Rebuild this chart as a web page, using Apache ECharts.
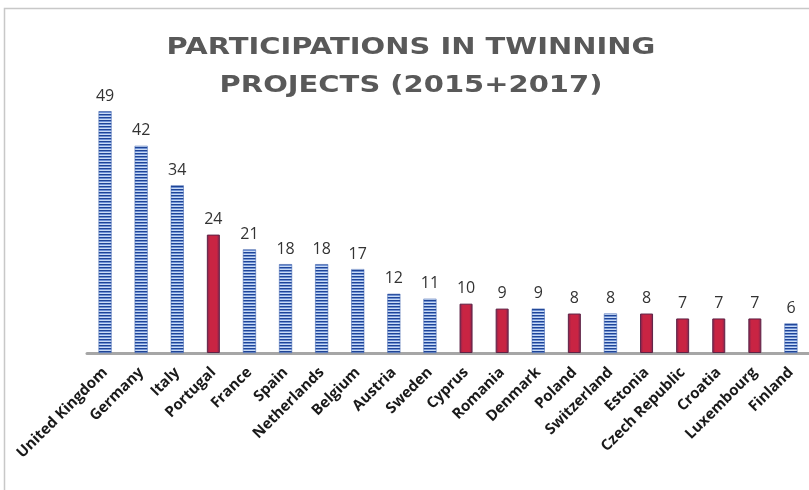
<!DOCTYPE html>
<html>
<head>
<meta charset="utf-8">
<script src="https://cdn.jsdelivr.net/npm/echarts@6/dist/echarts.min.js"></script>
<style>
  html, body { margin: 0; padding: 0; background: #fff; }
  #chart { width: 809px; height: 490px; }
</style>
</head>
<body>
<div id="chart"></div>
<script>
// data
const titleLines = ['PARTICIPATIONS IN TWINNING', 'PROJECTS (2015+2017)']
const countries = ['United Kingdom', 'Germany', 'Italy', 'Portugal', 'France', 'Spain', 'Netherlands',
  'Belgium', 'Austria', 'Sweden', 'Cyprus', 'Romania', 'Denmark', 'Poland', 'Switzerland',
  'Estonia', 'Czech Republic', 'Croatia', 'Luxembourg', 'Finland']
const participations = [49, 42, 34, 24, 21, 18, 18, 17, 12, 11, 10, 9, 9, 8, 8, 8, 7, 7, 7, 6]
// countries drawn with the solid red bar
const redCountries = ['Portugal', 'Cyprus', 'Romania', 'Poland', 'Estonia', 'Czech Republic', 'Croatia', 'Luxembourg']

// striped blue fill (horizontal lines)
const stripe = document.createElement('canvas')
stripe.width = 1
stripe.height = 3
const sctx = stripe.getContext('2d')
sctx.fillStyle = '#1f4496'; sctx.fillRect(0, 0, 1, 1)
sctx.fillStyle = '#6f92d6'; sctx.fillRect(0, 1, 1, 1)
sctx.fillStyle = '#cbdcf5'; sctx.fillRect(0, 2, 1, 1)

const redFill = new echarts.graphic.LinearGradient(0, 0, 1, 0, [
  { offset: 0, color: '#7a2550' },
  { offset: 0.25, color: '#c92443' },
  { offset: 0.75, color: '#c92443' },
  { offset: 1, color: '#7a2550' }
])

const mChart = echarts.init(document.getElementById('chart'))

// title drawn as graphic text so it can be widened like the spaced-out original
const titleText = titleLines.map((line, i) => ({
  type: 'text',
  x: 411,
  y: 48 + i * 38,
  scaleX: 1.26,
  style: {
    text: line,
    font: 'bold 23px "DejaVu Sans"',
    fill: '#595959',
    align: 'center',
    verticalAlign: 'middle'
  }
}))

const options = {
  animation: false,
  graphic: [{
    // outer frame, cut by the window on the right and bottom
    type: 'rect',
    shape: { x: 4.5, y: 8.5, width: 820, height: 500 },
    style: { fill: 'none', stroke: '#c8c8c8', lineWidth: 1.5 },
    z: -1
  }].concat(titleText),
  grid: {
    top: 57,
    left: 87,
    right: 0,
    bottom: 137
  },
  xAxis: {
    type: 'category',
    data: countries,
    axisTick: { show: false },
    axisLine: { lineStyle: { color: '#a6a6a6', width: 3 } },
    axisLabel: {
      interval: 0,
      rotate: 45,
      margin: 17,
      fontFamily: 'Open Sans',
      fontWeight: 'bold',
      fontSize: 15,
      color: '#1a1a1a'
    }
  },
  yAxis: {
    type: 'value',
    min: 0,
    max: 60,
    show: false,
    splitLine: { show: false }
  },
  series: [{
    type: 'bar',
    barWidth: 13,
    data: participations.map((v, i) => {
      const red = redCountries.includes(countries[i])
      return {
        value: v,
        itemStyle: red
          ? { color: redFill, borderColor: '#5e2346', borderWidth: 1 }
          : { color: { image: stripe, repeat: 'repeat' }, borderColor: '#3b5fab', borderWidth: 0.5 }
      }
    }),
    label: {
      show: true,
      position: 'top',
      distance: 7,
      fontFamily: 'Open Sans',
      fontSize: 16,
      color: '#333'
    }
  }]
}

mChart.setOption(options)
</script>
</body>
</html>
